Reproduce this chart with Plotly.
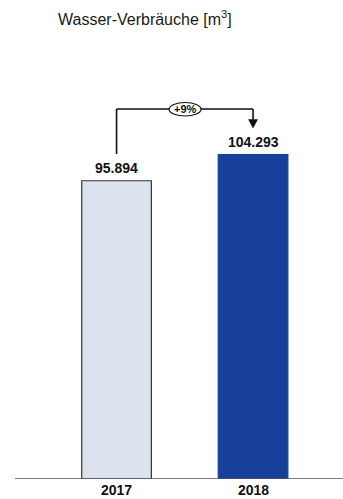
import plotly.graph_objects as go

years = ["2017", "2018"]
values = [95894, 104293]
labels = ["95.894", "104.293"]
change_label = "+9%"
title_text = "Wasser-Verbräuche [m<sup>3</sup>]"
colors = ["#DDE3EE", "#17409A"]
outline = ["#333333", "#17409A"]

W, H = 343, 499
ml, mr, mt, mb = 15, 0, 0, 20
plot_h = H - mt - mb
ymax = 154000
xr = [-0.744, 1.659]

fig = go.Figure()
fig.add_trace(go.Bar(
    x=[0, 1], y=values, width=0.51,
    marker=dict(color=colors, line=dict(color=outline, width=1.2)),
    hoverinfo="skip",
))

px_per_unit = plot_h / ymax
x_per_px = (xr[1] - xr[0]) / (W - ml - mr)
def ypx(p):  # pixel from top -> data
    return (H - mb - p) / px_per_unit

font_bold = "Liberation Sans"
ann = []
for i, (v, lab) in enumerate(zip(values, labels)):
    ann.append(dict(x=i, y=v, text="<b>%s</b>" % lab, showarrow=False,
                    yanchor="bottom", yshift=3,
                    font=dict(family=font_bold, size=14, color="#111111")))
for i, yr in enumerate(years):
    ann.append(dict(x=i, y=0, text="<b>%s</b>" % yr, showarrow=False,
                    yanchor="middle", yshift=-11,
                    font=dict(family=font_bold, size=14, color="#111111")))

# bracket
y_top = ypx(109)
y_start = ypx(154)
y_tip = ypx(128)
y_base = ypx(119.5)
hw = 4.5 * x_per_px
shapes = [
    dict(type="line", x0=0, x1=0, y0=y_start, y1=y_top, line=dict(color="#111111", width=1.6)),
    dict(type="line", x0=0, x1=1, y0=y_top, y1=y_top, line=dict(color="#111111", width=1.6)),
    dict(type="line", x0=1, x1=1, y0=y_top, y1=y_base, line=dict(color="#111111", width=1.6)),
    dict(type="path", path="M %f,%f L %f,%f L %f,%f Z" % (1 - hw, y_base, 1 + hw, y_base, 1, y_tip),
         fillcolor="#111111", line=dict(color="#111111", width=0.5)),
    dict(type="circle", x0=0.385, x1=0.619, y0=ypx(116), y1=ypx(102.5),
         fillcolor="white", line=dict(color="#111111", width=1.2), layer="above"),
]
ann.append(dict(x=0.502, y=ypx(109.3), text="<b>%s</b>" % change_label, showarrow=False,
                yanchor="middle", font=dict(family=font_bold, size=11, color="#111111")))

fig.update_layout(
    width=W, height=H,
    margin=dict(l=ml, r=mr, t=mt, b=mb),
    paper_bgcolor="white", plot_bgcolor="white",
    showlegend=False,
    title=dict(text=title_text, x=58 / W, xanchor="left", y=1 - 19 / H, yanchor="middle",
               font=dict(family="Liberation Sans", size=16, color="#1a1a1a")),
    xaxis=dict(range=xr, showticklabels=False, showgrid=False, zeroline=False,
               showline=False, fixedrange=True),
    yaxis=dict(range=[0, ymax], visible=False, fixedrange=True),
    shapes=shapes + [dict(type="line", xref="paper", yref="y", x0=0, x1=1, y0=0, y1=0,
                          line=dict(color="#555555", width=1.6))],
    annotations=ann,
)

fig.write_html("out.html", config={"displayModeBar": False})
